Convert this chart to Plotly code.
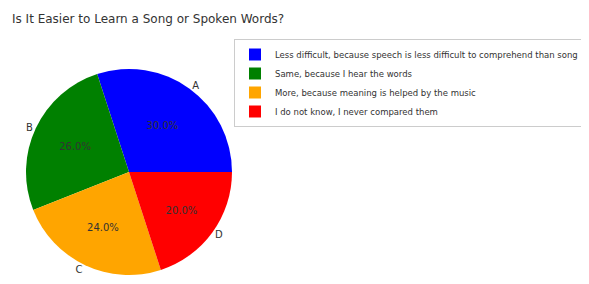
import plotly.graph_objects as go

title = "Is It Easier to Learn a Song or Spoken Words?"
short_labels = ["A", "B", "C", "D"]
legend_labels = [
    "Less difficult, because speech is less difficult to comprehend than song",
    "Same, because I hear the words",
    "More, because meaning is helped by the music",
    "I do not know, I never compared them",
]
values = [30, 26, 24, 20]
colors = ["#0000ff", "#008000", "#ffa500", "#ff0000"]

# page body adds an 8px offset; figure sized to fit the visible window
W, H = 581, 276
cx, cy, r = 121, 164, 103
dom_x = [(cx - r) / W, (cx + r) / W]
dom_y = [1 - (cy + r) / H, 1 - (cy - r) / H]

fig = go.Figure()
fig.add_trace(go.Pie(
    labels=legend_labels, values=values, sort=False,
    direction="counterclockwise", rotation=-18,
    marker=dict(colors=colors, line=dict(width=0)),
    textposition="inside", texttemplate="%{percent:.1%}",
    insidetextorientation="horizontal",
    textfont=dict(family="DejaVu Sans", size=10, color="#333333"),
    domain=dict(x=dom_x, y=dom_y),
    hoverinfo="label+percent",
))
fig.add_trace(go.Pie(
    labels=short_labels, values=values, sort=False,
    direction="counterclockwise", rotation=-18,
    marker=dict(colors=["rgba(0,0,0,0)"] * 4, line=dict(width=0)),
    textposition="outside", text=short_labels, texttemplate="%{text}",
    textfont=dict(family="DejaVu Sans", size=10, color="#333333"),
    domain=dict(x=dom_x, y=dom_y),
    showlegend=False, hoverinfo="skip", automargin=False,
))
fig.update_layout(
    width=W, height=H,
    margin=dict(l=0, r=0, t=0, b=0, autoexpand=False),
    paper_bgcolor="white",
    title=dict(text=title, xref="container", x=4 / W, xanchor="left",
               yref="container", y=1 - 11 / H, yanchor="middle",
               pad=dict(l=0, r=0, t=0, b=0),
               font=dict(family="DejaVu Sans", size=12, color="#333333")),
    legend=dict(x=226 / W, xanchor="left", y=1 - 31 / H, yanchor="top",
                bordercolor="#cccccc", borderwidth=1,
                font=dict(family="DejaVu Sans", size=8.5, color="#333333"),
                itemwidth=30, tracegroupgap=0),
    showlegend=True,
)
fig.write_html("out.html")
